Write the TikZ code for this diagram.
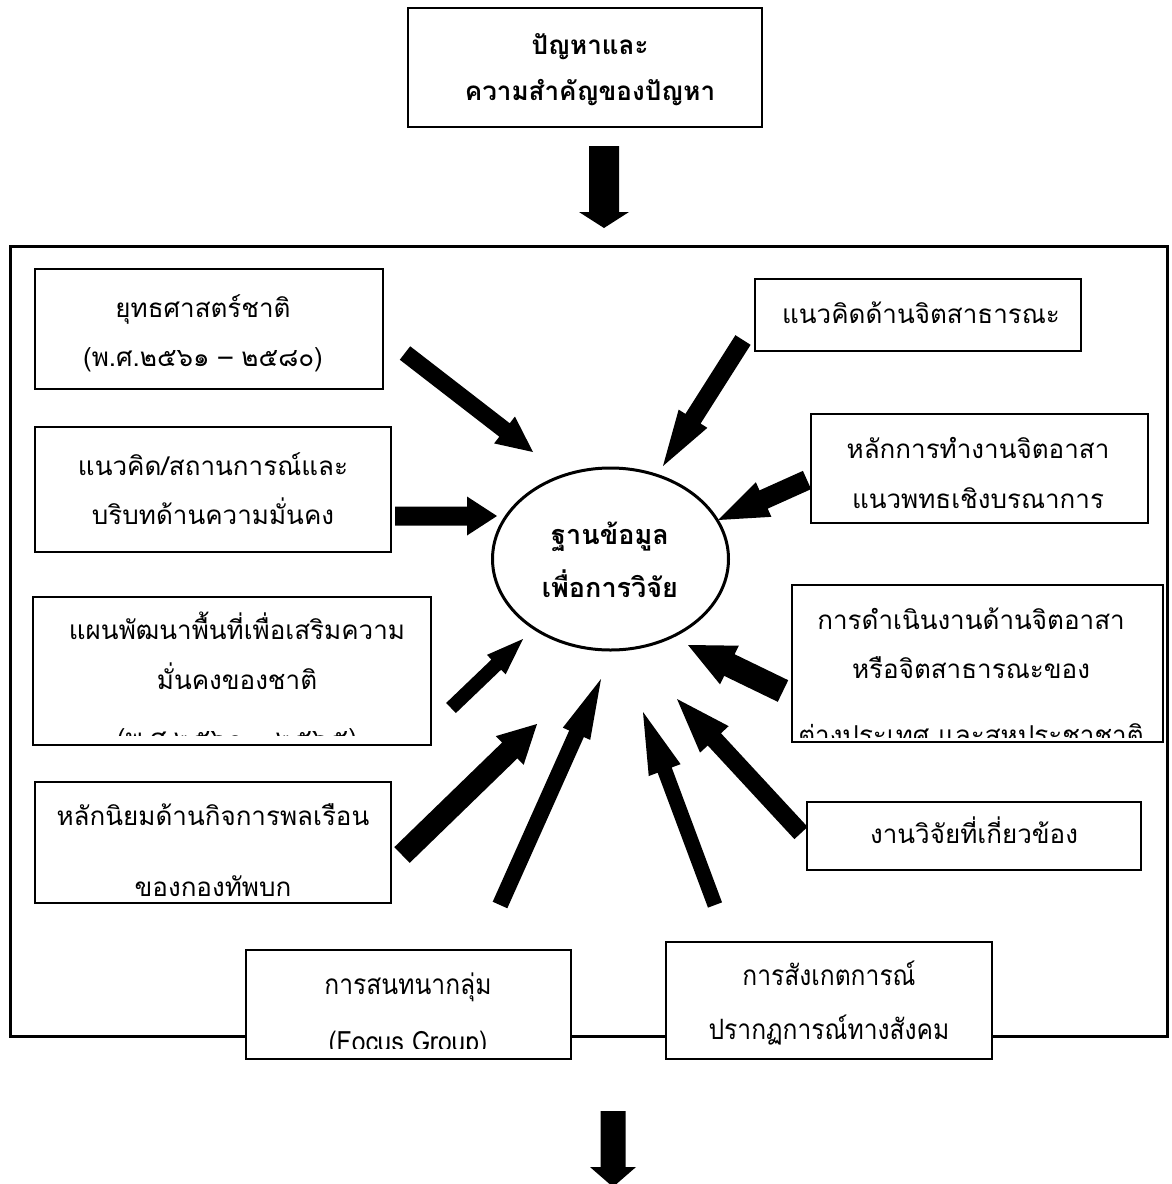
\documentclass[tikz,border=0pt]{standalone}
\usepackage{fontspec}
\newfontfamily\thai[Script=Thai]{Loma}
\newfontfamily\thaic[Script=Thai,FakeStretch=0.88]{Loma}
\usetikzlibrary{calc,shapes.geometric}
\newcommand{\blockarr}[5]{%
  \coordinate (ba) at ($(#2)!#5!(#1)$);
  \fill ($(#1)!#3!90:(#2)$) -- ($(ba)!#3!-90:(#1)$) -- ($(ba)!#4!-90:(#1)$) -- (#2)
     -- ($(ba)!#4!90:(#1)$) -- ($(ba)!#3!90:(#1)$) -- ($(#1)!#3!-90:(#2)$) -- cycle;}
\tikzset{
  boxs/.style={draw, line width=1.2pt, fill=white, inner sep=0pt},
  framebox/.style={draw, line width=3pt, inner sep=0pt},
  ln/.style={inner sep=0pt, font=\thai\fontsize{26}{30}\selectfont, text height=13pt, text depth=0pt},
  lnc/.style={inner sep=0pt, font=\thaic\fontsize{28}{30}\selectfont, text height=14pt, text depth=0pt},
  lnb/.style={inner sep=0pt, font=\thai\bfseries\fontsize{27}{30}\selectfont, text height=14pt, text depth=0pt},
  lnt/.style={inner sep=0pt, font=\thai\bfseries\fontsize{26}{30}\selectfont, text height=13pt, text depth=0pt},
}
\begin{document}
\begin{tikzpicture}[x=1pt,y=-1pt]
\clip (0,0) rectangle (1171,1184);
\fill[white] (0,0) rectangle (1171,1184);

% outer frame
\node[framebox, minimum width=1157pt, minimum height=790pt] (frame) at (588.5,641) {};

% top box and arrows
\node[boxs, line width=1.4pt, minimum width=354pt, minimum height=119pt] (top) at (585,67.5) {};
\node[lnt] (topt1) at (590,48) {ปัญหาและ};
\node[lnt] (topt2) at (590,94) {ความสำคัญของปัญหา};
\coordinate (ta) at (604,146); \coordinate (ha) at (604,228);
\blockarr{ta}{ha}{15pt}{25pt}{16pt}
\coordinate (tz) at (613,1111); \coordinate (hz) at (613,1187);
\blockarr{tz}{hz}{12.5pt}{23pt}{20pt}

% radial arrows
\coordinate (t1) at (405,353); \coordinate (h1) at (533,452);
\blockarr{t1}{h1}{8.5pt}{17pt}{36pt}
\coordinate (t2) at (743,340); \coordinate (h2) at (663,466);
\blockarr{t2}{h2}{9pt}{17pt}{56pt}
\coordinate (t3) at (395,516); \coordinate (h3) at (497,516);
\blockarr{t3}{h3}{9.5pt}{19.5pt}{30pt}
\coordinate (t4) at (807,480); \coordinate (h4) at (718,520);
\blockarr{t4}{h4}{10pt}{19pt}{50pt}
\coordinate (t5) at (451,708); \coordinate (h5) at (523,639);
\blockarr{t5}{h5}{7pt}{13.5pt}{37pt}
\coordinate (t6) at (783,691); \coordinate (h6) at (688,645);
\blockarr{t6}{h6}{12pt}{21.5pt}{46pt}
\coordinate (t7) at (402,855); \coordinate (h7) at (537,724);
\blockarr{t7}{h7}{11pt}{20pt}{38pt}
\coordinate (t8) at (500,905); \coordinate (h8) at (601,679);
\blockarr{t8}{h8}{8pt}{15pt}{60pt}
\coordinate (t9) at (715,905); \coordinate (h9) at (643,712);
\blockarr{t9}{h9}{7.5pt}{17pt}{62pt}
\coordinate (t10) at (801,833); \coordinate (h10) at (677,699);
\blockarr{t10}{h10}{9pt}{19.5pt}{55pt}

% centre ellipse
\node[ellipse, draw, line width=3pt, fill=white, minimum width=236pt, minimum height=182pt] (core) at (610.5,559) {};
\node[lnb] (coret1) at (610,537) {ฐานข้อมูล};
\node[lnb] (coret2) at (610,590) {เพื่อการวิจัย};

% left boxes
\node[boxs, minimum width=348pt, minimum height=120pt] (b1) at (209,329) {};
\node[ln] (b1t1) at (203,311) {ยุทธศาสตร์ชาติ};
\node[ln] (b1t2) at (203,360) {(พ.ศ.๒๕๖๑ – ๒๕๘๐)};

\node[boxs, minimum width=356pt, minimum height=125pt] (b2) at (213,489.5) {};
\node[ln] (b2t1) at (213,469) {แนวคิด/สถานการณ์และ};
\node[ln] (b2t2) at (213,518) {บริบทด้านความมั่นคง};

\node[boxs, minimum width=398pt, minimum height=148pt] (b3) at (232,671) {};
\begin{scope}
\clip (33,597) rectangle (431,735);
\node[ln] (b3t1) at (237,633) {แผนพัฒนาพื้นที่เพื่อเสริมความ};
\node[ln] (b3t2) at (237,683) {มั่นคงของชาติ};
\node[ln] (b3t3) at (237,741) {(พ.ศ.๒๕๖๑ – ๒๕๖๕)};
\end{scope}

\node[boxs, minimum width=356pt, minimum height=121pt] (b4) at (213,842.5) {};
\begin{scope}
\clip (35,782) rectangle (391,896);
\node[ln] (b4t1) at (213,819) {หลักนิยมด้านกิจการพลเรือน};
\node[ln] (b4t2) at (213,890) {ของกองทัพบก};
\end{scope}

% right boxes
\node[boxs, minimum width=326pt, minimum height=72pt] (ra) at (918,315) {};
\node[ln] (rat1) at (921,317) {แนวคิดด้านจิตสาธารณะ};

\node[boxs, minimum width=337pt, minimum height=109pt] (rb) at (979.5,468.5) {};
\node[ln] (rbt1) at (978,452) {หลักการทำงานจิตอาสา};
\node[ln] (rbt2) at (978,502) {แนวพทธเชิงบรณาการ};

\node[boxs, minimum width=371pt, minimum height=157pt] (rc) at (977.5,663.5) {};
\begin{scope}
\clip (792,585) rectangle (1163,737);
\node[ln] (rct1) at (971,623) {การดำเนินงานด้านจิตอาสา};
\node[ln] (rct2) at (971,672) {หรือจิตสาธารณะของ};
\node[ln] (rct3) at (971,738) {ต่างประเทศ และสหประชาชาติ};
\end{scope}

\node[boxs, minimum width=334pt, minimum height=68pt] (rd) at (974,836) {};
\node[ln] (rdt1) at (974,837) {งานวิจัยที่เกี่ยวข้อง};

% bottom boxes
\node[boxs, minimum width=325pt, minimum height=109pt] (fg) at (408.5,1004.5) {};
\begin{scope}
\clip (246,950) rectangle (571,1048);
\node[lnc] (fgt1) at (408,987) {การสนทนากลุ่ม};
\node[lnc] (fgt2) at (408,1044) {(Focus Group)};
\end{scope}

\node[boxs, minimum width=326pt, minimum height=117pt] (ob) at (829,1000.5) {};
\node[lnc] (obt1) at (829,978) {การสังเกตการณ์};
\node[lnc] (obt2) at (829,1032) {ปรากฏการณ์ทางสังคม};
\end{tikzpicture}
\end{document}
